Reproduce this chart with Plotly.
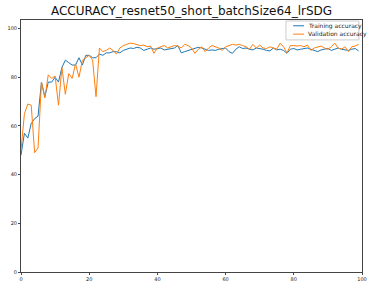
import plotly.graph_objects as go

epochs = list(range(100))
train_acc = [48, 57, 55, 61, 63, 64, 78, 72, 78, 78,
             80, 78, 84, 87, 86, 85, 85, 88, 85, 89,
             89, 88, 88, 89.5, 89, 90, 90, 90.5, 90.5, 90,
             91.0, 91.5, 92.0, 91.8, 92.3, 92.0, 91.0, 91.5, 92.0, 91.5,
             91.8, 92.0, 91.2, 91.5, 91.8, 92.0, 93.0, 90.0, 90.5, 91.0,
             91.5, 91.8, 92.3, 92.0, 91.5, 91.0, 91.2, 91.0, 91.5, 91.8,
             92.0, 90.5, 89.8, 91.5, 92.5, 91.8, 92.0, 91.5, 91.2, 92.0,
             91.8, 91.5, 91.0, 90.8, 92.0, 91.2, 91.5, 91.0, 89.8, 91.5,
             91.8, 91.2, 91.5, 91.8, 92.0, 91.5, 91.0, 90.5, 91.2, 91.5,
             91.8, 91.0, 91.5, 92.0, 91.5, 91.2, 91.0, 91.5, 91.8, 90.8]
val_acc = [50, 65, 69, 68.5, 49, 51, 78, 71.5, 81, 79.5,
           80.5, 68.5, 84, 73, 81.5, 79.5, 85.5, 80, 87, 88,
           89, 87, 72, 92, 90.5, 91, 92, 91, 89.5, 92,
           93.0, 93.5, 94.0, 93.8, 93.5, 93.0, 93.2, 92.5, 92.8, 89.8,
           92.0, 92.5, 93.0, 92.0, 92.5, 93.0, 92.8, 92.0, 93.5, 93.0,
           92.0, 89.8, 91.5, 92.5, 90.5, 92.0, 93.0, 92.5, 92.0, 91.0,
           92.5, 93.0, 93.5, 93.2, 93.5, 93.0, 92.5, 91.5, 93.5, 92.0,
           93.2, 92.0, 91.8, 92.5, 92.0, 91.5, 94.0, 92.5, 90.0, 93.0,
           93.0, 92.8, 93.0, 92.5, 93.2, 91.0, 92.0, 92.5, 92.8, 92.0,
           91.5, 92.5, 94.0, 92.0, 91.5, 92.5, 90.5, 92.5, 92.8, 93.5]

series_names = ["Training accuracy", "Validation accuracy"]
series_colors = ["#1f77b4", "#ff7f0e"]
x_ticks = [0, 20, 40, 60, 80, 100]
y_ticks = [0, 20, 40, 60, 80, 100]

fig = go.Figure()
for name, ys, col in zip(series_names, [train_acc, val_acc], series_colors):
    fig.add_trace(go.Scatter(x=epochs, y=ys, mode="lines", name=name,
                             line=dict(color=col, width=1), showlegend=False))

axis_common = dict(showgrid=False, zeroline=False, showline=True, linecolor="#444",
                   linewidth=1, mirror=True, ticks="outside", ticklen=2, tickcolor="#444",
                   automargin=False,
                   tickfont=dict(size=5, family="DejaVu Sans", color="#222"))
fig.update_xaxes(range=[0, 100], tickvals=x_ticks, ticktext=[str(v) for v in x_ticks], **axis_common)
fig.update_yaxes(range=[0, 103.5], tickvals=y_ticks, ticktext=[str(v) for v in y_ticks], **axis_common)

# compact matplotlib-style legend
fig.add_shape(type="rect", xref="paper", yref="paper", x0=0.777, x1=0.991, y0=0.921, y1=0.996,
              line=dict(color="#cccccc", width=1), fillcolor="rgba(255,255,255,0.85)", layer="above")
for i, (name, col) in enumerate(zip(series_names, series_colors)):
    yy = [0.977, 0.944][i]
    fig.add_shape(type="line", xref="paper", yref="paper", x0=0.798, x1=0.830, y0=yy, y1=yy,
                  line=dict(color=col, width=1), layer="above")
    fig.add_annotation(text=name, xref="paper", yref="paper", x=0.836, y=yy,
                       xanchor="left", yanchor="middle", showarrow=False,
                       font=dict(size=6, family="DejaVu Sans", color="#222"))

fig.update_layout(
    width=376, height=288,
    margin=dict(l=21, r=14, t=20, b=16),
    paper_bgcolor="white", plot_bgcolor="white",
    title=dict(text="ACCURACY_resnet50_short_batchSize64_lrSDG", x=0.5, xref="paper",
               xanchor="center", y=0.962, yanchor="middle",
               font=dict(size=12, family="DejaVu Sans", color="#111")),
    showlegend=False,
)

fig.write_html("out.html")
